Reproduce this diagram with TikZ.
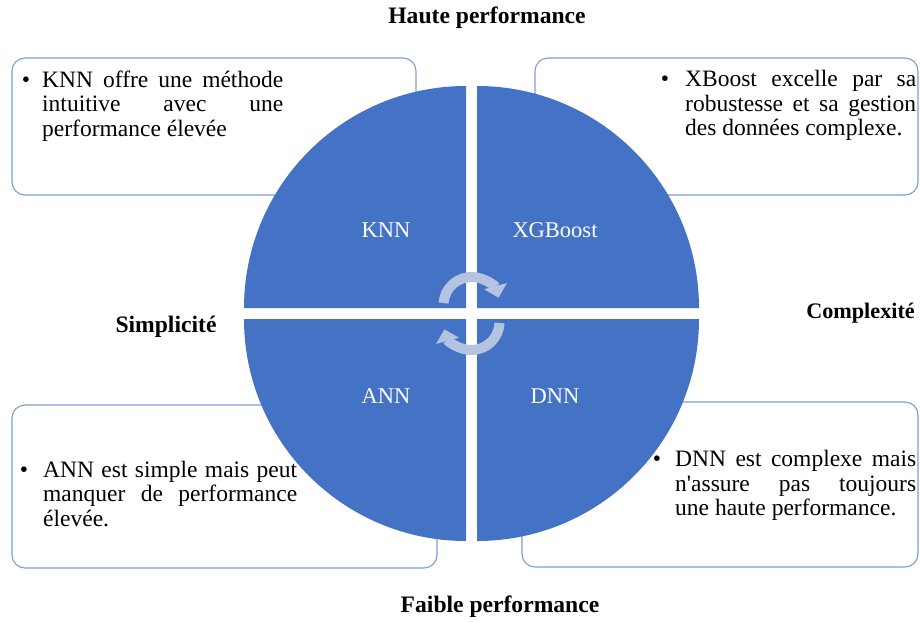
\documentclass[tikz,border=0pt]{standalone}
\usepackage{fontspec}
\setmainfont{Liberation Serif}
\usetikzlibrary{arrows.meta}
\definecolor{qblue}{HTML}{4472C4}
\definecolor{boxline}{HTML}{7F9DD3}
\definecolor{arrowc}{HTML}{B4C3E2}
\begin{document}
\begin{tikzpicture}[x=1pt,y=-1pt,
  txt/.style={font=\fontsize{23.5}{24.5}\selectfont, text width=#1, align=justify, inner sep=0pt, anchor=north west},
  bul/.style={font=\fontsize{23.5}{24.5}\selectfont, inner sep=0pt, anchor=base},
  ttl/.style={font=\fontsize{23.6}{24}\selectfont\bfseries, inner sep=0pt},
  qlab/.style={font=\fontsize{22.5}{24}\selectfont, text=white, inner sep=0pt},
  infobox/.style={draw=boxline, line width=1.1pt, rounded corners=13pt, fill=white, inner sep=0pt},
  cyc/.style={draw=arrowc, line width=10pt, -{Triangle[length=12pt,width=23pt]}}]
\useasboundingbox (0,0) rectangle (920,621);

% information boxes
\node[infobox, minimum width=404pt, minimum height=137pt] (b1) at (214,126.5) {};
\node[infobox, minimum width=383pt, minimum height=137pt] (b2) at (726.5,126.5) {};
\node[infobox, minimum width=425pt, minimum height=163pt] (b3) at (224.5,486.5) {};
\node[infobox, minimum width=396pt, minimum height=165pt] (b4) at (720,484.5) {};

% circle quadrants
\fill[qblue] (466,308) -- ++(-222,0) arc[start angle=180,end angle=270,radius=222] -- cycle;
\fill[qblue] (477,308) -- ++(0,-222) arc[start angle=270,end angle=360,radius=222] -- cycle;
\fill[qblue] (477,319) -- ++(222,0) arc[start angle=0,end angle=90,radius=222] -- cycle;
\fill[qblue] (466,319) -- ++(0,222) arc[start angle=90,end angle=180,radius=222] -- cycle;

% quadrant labels
\node[qlab] (knn) at (386,230) {KNN};
\node[qlab] (xgb) at (555,230) {XGBoost};
\node[qlab] (ann) at (386,396) {ANN};
\node[qlab] (dnn) at (555,396) {DNN};

% cycle arrows
\draw[cyc] (471.5,305) ++(184:28) arc[start angle=184,end angle=345,radius=28];
\draw[cyc] (471.5,322) ++(2:28) arc[start angle=2,end angle=165,radius=28];

% axis titles
\node[ttl] (top) at (487,18) {Haute performance};
\node[ttl] (bot) at (500,607) {Faible performance};
\node[ttl] (simp) at (166,327) {Simplicité};
\node[ttl, font=\fontsize{22.2}{24}\selectfont\bfseries] (comp) at (860.5,313) {Complexité};

% box texts
\node[bul] (k0) at (26,87) {•};
\node[txt=241pt] (k1) at (42,69.85) {\strut KNN offre une méthode\linebreak intuitive avec une\linebreak performance élevée};
\node[bul] (x0) at (665,86.7) {•};
\node[txt=231pt] (x1) at (685,69.5) {\strut XBoost excelle par sa\linebreak robustesse et sa gestion\linebreak des données complexe.};
\node[bul] (a0) at (24,477) {•};
\node[txt=254pt] (a1) at (43,459.85) {\strut ANN est simple mais peut\linebreak manquer de performance\linebreak élevée.};
\node[bul] (d0) at (657,466.7) {•};
\node[txt=241pt] (d1) at (675,449.5) {\strut DNN est complexe mais\linebreak n\textquotesingle assure pas toujours\linebreak une haute performance.};
\end{tikzpicture}
\end{document}
